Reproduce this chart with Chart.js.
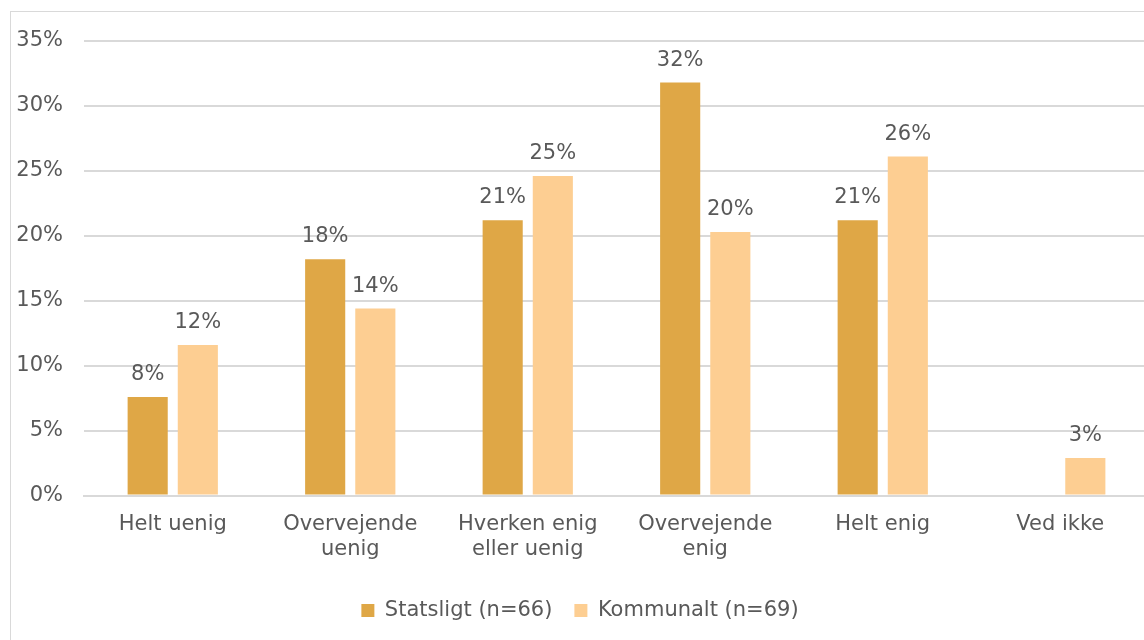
<!DOCTYPE html>
<html lang="da">
<head>
  <meta charset="UTF-8" />
  <title>Statsligt vs Kommunalt</title>
  <script src="https://cdn.jsdelivr.net/npm/chart.js"></script>
  <style>
    html, body {
      margin: 0;
      padding: 0;
      background: #fff;
      overflow: hidden;
      width: 1144px;
      height: 640px;
    }
    .frame {
      position: absolute;
      left: 10px;
      top: 11px;
      width: 1154px;
      height: 640px;
      border: 1px solid #d9d9d9;
      box-sizing: border-box;
    }
    canvas { display: block; }
  </style>
</head>
<body>
  <div class="frame">
    <canvas id="chart" width="1152" height="638"></canvas>
  </div>

  <script>
    const categories = [
      ['Helt uenig'],
      ['Overvejende', 'uenig'],
      ['Hverken enig', 'eller uenig'],
      ['Overvejende', 'enig'],
      ['Helt enig'],
      ['Ved ikke']
    ];
    const statsligt = [7.6, 18.2, 21.2, 31.8, 21.2, 0];
    const kommunalt = [11.6, 14.4, 24.6, 20.3, 26.1, 2.9];
    const seriesNames = ['Statsligt (n=66)', 'Kommunalt (n=69)'];

    const textColor = '#595959';
    const font = { family: 'DejaVu Sans', size: 21 };

    // labels over the bars (no datalabels plugin offline)
    const barLabels = {
      id: 'barLabels',
      afterDatasetsDraw(chart) {
        const ctx = chart.ctx;
        ctx.save();
        ctx.font = font.size + 'px ' + font.family;
        ctx.fillStyle = textColor;
        ctx.textAlign = 'center';
        ctx.textBaseline = 'bottom';
        chart.data.datasets.forEach((ds, i) => {
          chart.getDatasetMeta(i).data.forEach((bar, j) => {
            const v = ds.data[j];
            if (!v) return;
            ctx.fillText(Math.round(v) + '%', bar.x, bar.y - 12);
          });
        });
        ctx.restore();
      }
    };

    new Chart(document.getElementById('chart'), {
      type: 'bar',
      data: {
        labels: categories,
        datasets: [
          { label: seriesNames[0], data: statsligt, backgroundColor: '#dfa746' },
          { label: seriesNames[1], data: kommunalt, backgroundColor: '#fdce92' }
        ]
      },
      options: {
        responsive: false,
        animation: false,
        categoryPercentage: 0.565,
        barPercentage: 0.8,
        layout: { padding: { top: 0, right: 14, left: 0, bottom: 19 } },
        scales: {
          x: {
            grid: { display: false, drawTicks: false },
            border: { color: '#d9d9d9', width: 2 },
            ticks: { color: textColor, font: font, padding: 16, maxRotation: 0 }
          },
          y: {
            min: 0,
            max: 35,
            afterFit: s => { s.width = 73; s.paddingTop = 29; s.paddingBottom = 0; },
            grid: { color: '#d9d9d9', lineWidth: 2, drawTicks: false },
            border: { display: false },
            ticks: {
              stepSize: 5,
              color: textColor,
              font: font,
              padding: 21,
              callback: v => v + '%'
            }
          }
        },
        plugins: {
          legend: {
            position: 'bottom',
            labels: {
              color: textColor,
              font: font,
              boxWidth: 13,
              boxHeight: 13,
              padding: 22
            }
          },
          tooltip: { enabled: false }
        }
      },
      plugins: [barLabels]
    });
  </script>
</body>
</html>
